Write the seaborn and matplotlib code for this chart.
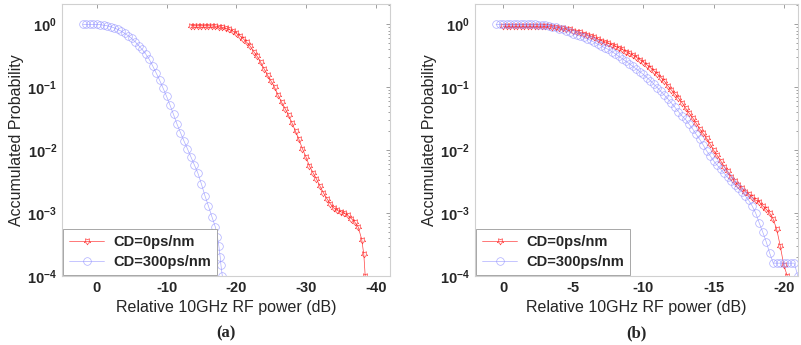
import numpy as np
import pandas as pd
import seaborn as sns
import matplotlib.pyplot as plt
from matplotlib.ticker import LogLocator, FixedLocator, FuncFormatter, NullFormatter

# data: x = relative 10GHz RF power (dB), y = accumulated probability
# panel (a)
a_cd0_x = [-13.5, -14, -14.5, -15, -15.5, -16, -16.5, -17, -17.5, -18, -18.5, -19, -19.5, -20,
           -20.5, -21, -21.5, -22, -22.5, -23, -23.5, -24, -24.5, -25, -25.5, -26, -26.5, -27,
           -27.5, -28, -28.5, -29, -29.5, -30, -30.5, -31, -31.5, -32, -32.5, -33, -33.5, -34,
           -34.5, -35, -35.5, -36, -36.5, -37, -37.5, -38, -38.3, -38.5]
a_cd0_y = [0.96, 0.96, 0.96, 0.96, 0.96, 0.955, 0.95, 0.94, 0.92, 0.90, 0.87, 0.83, 0.78, 0.72,
           0.66, 0.59, 0.52, 0.45, 0.37, 0.31, 0.25, 0.195, 0.155, 0.125, 0.10, 0.075, 0.058, 0.046,
           0.036, 0.027, 0.020, 0.0148, 0.0105, 0.0078, 0.0056, 0.0044, 0.0035, 0.0027, 0.0021, 0.0017, 0.0014, 0.0012,
           0.0011, 0.00105, 0.001, 0.00092, 0.00082, 0.00072, 0.0006, 0.00038, 0.00022, 0.0001]
a_cd300_x = [2.0, 1.5, 1.0, 0.5, 0, -0.5, -1, -1.5, -2, -2.5, -3, -3.5, -4, -4.5, -5, -5.5, -6,
             -6.5, -7, -7.5, -8, -8.5, -9, -9.5, -10, -10.5, -11, -11.5, -12, -12.5, -13, -13.5,
             -14, -14.5, -15, -15.5, -16, -16.5, -17, -17.3, -17.5, -17.7, -17.8, -18]
a_cd300_y = [1.0, 1.0, 1.0, 1.0, 1.0, 0.99, 0.97, 0.95, 0.92, 0.88, 0.83, 0.78, 0.72, 0.66, 0.60, 0.53, 0.46,
             0.40, 0.34, 0.28, 0.22, 0.17, 0.13, 0.097, 0.072, 0.052, 0.037, 0.026, 0.019, 0.014, 0.0105, 0.0078,
             0.0058, 0.0043, 0.0029, 0.0019, 0.0013, 0.00088, 0.0006, 0.00042, 0.0003, 0.0002, 0.00015, 0.0001]

# panel (b)
b_cd0_x = [0.0, -0.25, -0.5, -0.75, -1.0, -1.25, -1.5, -1.75, -2.0, -2.25, -2.5, -2.75, -3.0, -3.25,
           -3.5, -3.75, -4.0, -4.25, -4.5, -4.75, -5.0, -5.25, -5.5, -5.75, -6.0, -6.25, -6.5, -6.75,
           -7.0, -7.25, -7.5, -7.75, -8.0, -8.25, -8.5, -8.75, -9.0, -9.25, -9.5, -9.75, -10.0, -10.25,
           -10.5, -10.75, -11.0, -11.25, -11.5, -11.75, -12.0, -12.25, -12.5, -12.75, -13.0, -13.25,
           -13.5, -13.75, -14.0, -14.25, -14.5, -14.75, -15.0, -15.25, -15.5, -15.75, -16.0, -16.25,
           -16.5, -16.75, -17.0, -17.25, -17.5, -17.75, -18.0, -18.25, -18.5, -18.75, -19.0, -19.25,
           -19.5, -19.75, -20.0, -20.25]
b_cd0_y = [0.93, 0.93, 0.93, 0.93, 0.93, 0.93, 0.93, 0.93, 0.93, 0.93, 0.93, 0.93, 0.93, 0.93,
           0.92, 0.91, 0.89, 0.87, 0.855, 0.83, 0.80, 0.77, 0.745, 0.715, 0.685, 0.655, 0.625, 0.58,
           0.55, 0.53, 0.50, 0.475, 0.45, 0.425, 0.40, 0.37, 0.345, 0.325, 0.30, 0.275, 0.25, 0.228,
           0.205, 0.183, 0.162, 0.143, 0.124, 0.105, 0.09, 0.078, 0.067, 0.057, 0.047, 0.039,
           0.033, 0.027, 0.022, 0.0185, 0.0155, 0.0125, 0.010, 0.0083, 0.0068, 0.0055, 0.0046, 0.0038,
           0.0032, 0.0028, 0.0025, 0.0022, 0.002, 0.0018, 0.0016, 0.0015, 0.0013, 0.00115, 0.001, 0.0008,
           0.00055, 0.0003, 0.00015, 0.0001]
b_cd300_x = [0.5, 0.25, 0.0, -0.25, -0.5, -0.75, -1.0, -1.25, -1.5, -1.75, -2.0, -2.25, -2.5, -2.75,
             -3.0, -3.25, -3.5, -3.75, -4.0, -4.25, -4.5, -4.75, -5.0, -5.25, -5.5, -5.75, -6.0, -6.25,
             -6.5, -6.75, -7.0, -7.25, -7.5, -7.75, -8.0, -8.25, -8.5, -8.75, -9.0, -9.25, -9.5, -9.75,
             -10.0, -10.25, -10.5, -10.75, -11.0, -11.25, -11.5, -11.75, -12.0, -12.25, -12.5, -12.75,
             -13.0, -13.25, -13.5, -13.75, -14.0, -14.25, -14.5, -14.75, -15.0, -15.25, -15.5, -15.75,
             -16.0, -16.25, -16.5, -16.75, -17.0, -17.25, -17.5, -17.75, -18.0, -18.25, -18.5, -18.75,
             -19.0, -19.25, -19.5, -19.75, -20.0, -20.25, -20.5, -20.75, -21.0]
b_cd300_y = [1.0, 1.0, 1.0, 1.0, 1.0, 1.0, 1.0, 1.0, 1.0, 1.0, 1.0, 1.0, 0.99, 0.98,
             0.965, 0.95, 0.925, 0.895, 0.86, 0.83, 0.79, 0.75, 0.71, 0.68, 0.65, 0.62, 0.585, 0.555,
             0.52, 0.485, 0.455, 0.425, 0.40, 0.37, 0.34, 0.31, 0.285, 0.26, 0.237, 0.215, 0.195, 0.177,
             0.16, 0.143, 0.127, 0.112, 0.098, 0.086, 0.075, 0.065, 0.056, 0.048, 0.041, 0.035,
             0.031, 0.026, 0.022, 0.018, 0.015, 0.0122, 0.0098, 0.0082, 0.0068, 0.0058, 0.0050, 0.0043,
             0.0037, 0.0032, 0.0028, 0.0025, 0.0022, 0.0019, 0.0016, 0.0013, 0.001, 0.0007, 0.0005, 0.00035,
             0.00023, 0.00016, 0.00016, 0.00016, 0.00016, 0.00016, 0.00016, 0.00016, 0.0001]

a_xticks = [0, -10, -20, -30, -40]
b_xticks = [0, -5, -10, -15, -20]
labels = ['CD=0ps/nm', 'CD=300ps/nm']

sns.set_style('white')
plt.rcParams['font.family'] = ['Liberation Sans', 'DejaVu Sans']
plt.rcParams['mathtext.fontset'] = 'custom'
plt.rcParams['mathtext.rm'] = 'Liberation Sans'
plt.rcParams['mathtext.bf'] = 'Liberation Sans:bold'

red = '#ff2020'
blue = '#8c8cff'
frame = '#d0d0d0'

fig = plt.figure(figsize=(8.01, 3.45), dpi=100)
ax_a = fig.add_axes([0.0774, 0.2, 0.409, 0.788])
ax_b = fig.add_axes([0.593, 0.2, 0.403, 0.788])


def draw(ax, x0, y0, x1, y1, xlim, xticks, tag):
    sns.lineplot(x=x0, y=y0, ax=ax, color=red, lw=0.5, sort=False, marker=(5, 1, 180),
                 markersize=5, markerfacecolor='none', markeredgecolor=red, markeredgewidth=0.5,
                 label=labels[0], alpha=0.85)
    sns.lineplot(x=x1, y=y1, ax=ax, color=blue, lw=0.5, sort=False, marker='o',
                 markersize=5.5, markerfacecolor='none', markeredgecolor=blue, markeredgewidth=0.5,
                 label=labels[1], alpha=0.7)
    ax.set_yscale('log')
    ax.set_ylim(1e-4, 2.1)
    ax.set_xlim(*xlim)
    ax.xaxis.set_major_locator(FixedLocator(xticks))
    ax.xaxis.set_major_formatter(FuncFormatter(lambda v, p: f'{v:g}'))
    ax.yaxis.set_major_locator(FixedLocator([1e-4, 1e-3, 1e-2, 1e-1, 1]))
    ax.yaxis.set_major_formatter(FuncFormatter(
        lambda v, p: r'$\mathbf{10^{%d}}$' % int(round(np.log10(v)))))
    ax.yaxis.set_minor_locator(LogLocator(base=10, subs=np.arange(2, 10), numticks=20))
    ax.yaxis.set_minor_formatter(NullFormatter())
    ax.tick_params(axis='both', which='both', direction='in', top=True, right=True,
                   color='#777777', width=0.5)
    ax.tick_params(axis='both', which='major', length=3, labelsize=10.5)
    ax.tick_params(axis='y', which='minor', length=1.5)
    for t in ax.get_xticklabels():
        t.set_fontweight('bold')
    for s in ax.spines.values():
        s.set_color(frame)
        s.set_linewidth(0.8)
    ax.set_xlabel('Relative 10GHz RF power (dB)', fontsize=11.5, labelpad=4)
    ax.set_ylabel('Accumulated Probability', fontsize=11.5, labelpad=2)
    leg = ax.legend(loc='lower left', fancybox=False, framealpha=1, edgecolor='#999999',
                    prop={'weight': 'bold', 'size': 10.5}, handlelength=2.4, borderpad=0.4,
                    labelspacing=0.4, borderaxespad=0.1, handletextpad=0.6)
    leg.get_frame().set_linewidth(0.6)
    pos = ax.get_position()
    fig.text((pos.x0 + pos.x1) / 2, 0.035, tag, ha='center', va='center', fontsize=12,
             fontweight='bold', family='Liberation Serif')


draw(ax_a, a_cd0_x, a_cd0_y, a_cd300_x, a_cd300_y, (5, -42), a_xticks, '(a)')
draw(ax_b, b_cd0_x, b_cd0_y, b_cd300_x, b_cd300_y, (2, -21), b_xticks, '(b)')

fig.savefig('out.png', dpi=100)
